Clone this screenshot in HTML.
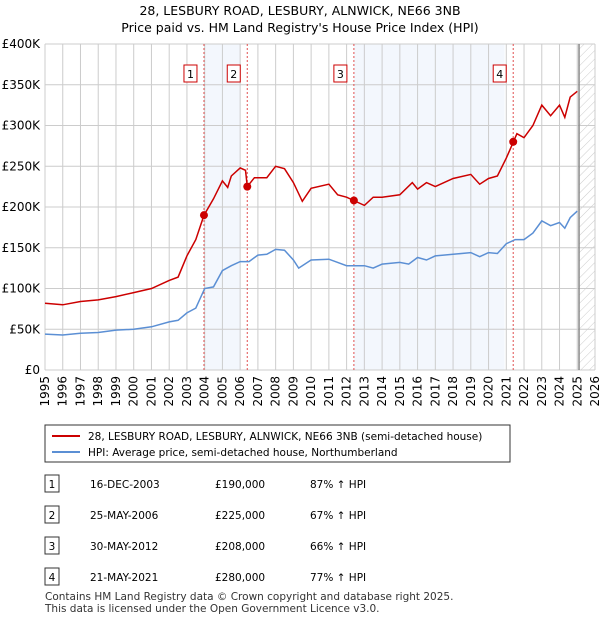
<!DOCTYPE html>
<html><head><meta charset="utf-8"><style>
body{margin:0;background:#fff;font-family:"Liberation Sans","DejaVu Sans",sans-serif;}
svg text{font-family:"DejaVu Sans","Liberation Sans",sans-serif;}
</style></head><body>
<svg id="c" width="600" height="620" viewBox="0 0 600 620" xmlns="http://www.w3.org/2000/svg">
<defs><pattern id="hatch" width="6" height="6" patternUnits="userSpaceOnUse" patternTransform="rotate(45)"><line x1="0" y1="0" x2="0" y2="6" stroke="#ccc" stroke-width="1"/></pattern></defs>
<text x="300" y="15" text-anchor="middle" font-size="12.5">28, LESBURY ROAD, LESBURY, ALNWICK, NE66 3NB</text>
<text x="300" y="32" text-anchor="middle" font-size="12.5">Price paid vs. HM Land Registry's House Price Index (HPI)</text>
<g id="plot"></g>
<g>
<rect x="45" y="425" width="465" height="37" fill="#fff" stroke="#333"/>
<line x1="52" y1="436" x2="80" y2="436" stroke="#cc0000" stroke-width="2"/>
<text x="88" y="440" font-size="10.5">28, LESBURY ROAD, LESBURY, ALNWICK, NE66 3NB (semi-detached house)</text>
<line x1="52" y1="452" x2="80" y2="452" stroke="#5b8fd4" stroke-width="2"/>
<text x="88" y="456" font-size="10.5">HPI: Average price, semi-detached house, Northumberland</text>
</g>
<g id="tbl" font-size="10.5"></g>
<text x="45" y="600" font-size="10.5" fill="#333">Contains HM Land Registry data © Crown copyright and database right 2025.</text>
<text x="45" y="612" font-size="10.5" fill="#333">This data is licensed under the Open Government Licence v3.0.</text>
</svg>
<script>
const hpiYears=[1995,1996,1997,1998,1999,2000,2001,2002,2002.5,2003,2003.5,2004,2004.5,2005,2005.5,2006,2006.5,2007,2007.5,2008,2008.5,2009,2009.3,2010,2011,2011.5,2012,2013,2013.5,2014,2015,2015.5,2016,2016.5,2017,2018,2019,2019.5,2020,2020.5,2021,2021.5,2022,2022.5,2023,2023.5,2024,2024.3,2024.6,2025];
const hpiValues=[44,43,45,46,49,50,53,59,61,70,76,100,102,122,128,133,133,141,142,148,147,135,125,135,136,132,128,128,125,130,132,130,138,135,140,142,144,139,144,143,155,160,160,168,183,177,181,174,187,195];
const priceYears=[1995,1996,1997,1998,1999,2000,2001,2002,2002.5,2003,2003.5,2003.96,2004.5,2005,2005.3,2005.5,2006,2006.3,2006.4,2006.8,2007.5,2008,2008.5,2009,2009.5,2010,2011,2011.5,2012,2012.4,2013,2013.5,2014,2015,2015.7,2016,2016.5,2017,2018,2019,2019.5,2020,2020.5,2021,2021.4,2021.6,2022,2022.5,2023,2023.5,2024,2024.3,2024.6,2025];
const priceValues=[82,80,84,86,90,95,100,110,114,140,160,190,210,232,224,238,248,245,225,236,236,250,247,230,207,223,228,215,212,208,202,212,212,215,230,222,230,225,235,240,228,235,238,260,280,290,285,300,325,312,325,310,335,342];
const saleLabels=["1","2","3","4"];
const saleYears=[2003.96,2006.4,2012.41,2021.39];
const saleValues=[190,225,208,280];
const saleDates=["16-DEC-2003","25-MAY-2006","30-MAY-2012","21-MAY-2021"];
const salePrices=["£190,000","£225,000","£208,000","£280,000"];
const saleHpi=["87% ↑ HPI","67% ↑ HPI","66% ↑ HPI","77% ↑ HPI"];
const yTicks=[0,50,100,150,200,250,300,350,400];
const yTickLabels=["£0","£50K","£100K","£150K","£200K","£250K","£300K","£350K","£400K"];
const xTicks=[1995,1996,1997,1998,1999,2000,2001,2002,2003,2004,2005,2006,2007,2008,2009,2010,2011,2012,2013,2014,2015,2016,2017,2018,2019,2020,2021,2022,2023,2024,2025,2026];

const X0=45,X1=595,Y0=370,Y1=44,xmin=1995,xmax=2026,ymax=400,forecast=2025.1;
const xs=v=>X0+(v-xmin)/(xmax-xmin)*(X1-X0);
const ys=v=>Y0-v/ymax*(Y0-Y1);
const NS="http://www.w3.org/2000/svg";
const g=document.getElementById('plot');
function mk(t,a,p){const e=document.createElementNS(NS,t);for(const k in a)e.setAttribute(k,a[k]);(p||g).appendChild(e);return e;}
// shading
const shades=[[saleYears[0],2006.0],[saleYears[2],2020.9]];
shades.forEach((s,i)=>{const r=mk('rect',{x:xs(s[0]),y:Y1,width:xs(s[1])-xs(s[0]),height:Y0-Y1,fill:'#eef3fc',opacity:0.7});

});
// grid
xTicks.forEach(t=>{const l=mk('line',{x1:xs(t),x2:xs(t),y1:Y1,y2:Y0,stroke:'#ccc'});


const tx=mk('text',{x:0,y:0,'font-size':12,'text-anchor':'end',transform:`translate(${xs(t)+4},${Y0+6}) rotate(-90)`});tx.textContent=t;

});
yTicks.forEach((t,i)=>{const l=mk('line',{x1:X0,x2:X1,y1:ys(t),y2:ys(t),stroke:'#ccc'});


const tx=mk('text',{x:X0-5,y:ys(t)+4,'font-size':12,'text-anchor':'end'});tx.textContent=yTickLabels[i];

});
// forecast hatch
const h=mk('rect',{x:xs(forecast),y:Y1,width:X1-xs(forecast),height:Y0-Y1,fill:'url(#hatch)'});


const fl=mk('line',{x1:xs(forecast),x2:xs(forecast),y1:Y1,y2:Y0,stroke:'#888','stroke-width':1.5});


// sale lines
saleYears.forEach((y,i)=>{const l=mk('line',{x1:xs(y),x2:xs(y),y1:Y1,y2:Y0,stroke:'#e05050','stroke-dasharray':'2,2'});


const bx=mk('rect',{x:xs(y)-20,y:65,width:13,height:17,fill:'#fff',stroke:'#cc0000'});


const t=mk('text',{x:xs(y)-13.5,y:78,'font-size':11,'text-anchor':'middle'});t.textContent=saleLabels[i];

});
// series
function path(xa,va){return xa.map((x,i)=>(i?'L':'M')+xs(x).toFixed(1)+','+ys(va[i]).toFixed(1)).join('');}
const hp=mk('path',{d:path(hpiYears,hpiValues),fill:'none',stroke:'#5b8fd4','stroke-width':1.5});


const pp=mk('path',{d:path(priceYears,priceValues),fill:'none',stroke:'#cc0000','stroke-width':1.5});


saleYears.forEach((y,i)=>{const c=mk('circle',{cx:xs(y),cy:ys(saleValues[i]),r:4,fill:'#cc0000'});

});
// table
const tb=document.getElementById('tbl');
saleLabels.forEach((s,i)=>{const y=487+i*31;
const b=mk('rect',{x:45,y:y-12,width:14,height:17,fill:'#fff',stroke:'#333'},tb);


const cells=[[52,s,'middle'],[90,saleDates[i],'start'],[215,salePrices[i],'start'],[310,saleHpi[i],'start']];
cells.forEach(c=>{const t=mk('text',{x:c[0],y:y+1,'text-anchor':c[2]},tb);t.textContent=c[1];

});});
</script>
</body></html>
